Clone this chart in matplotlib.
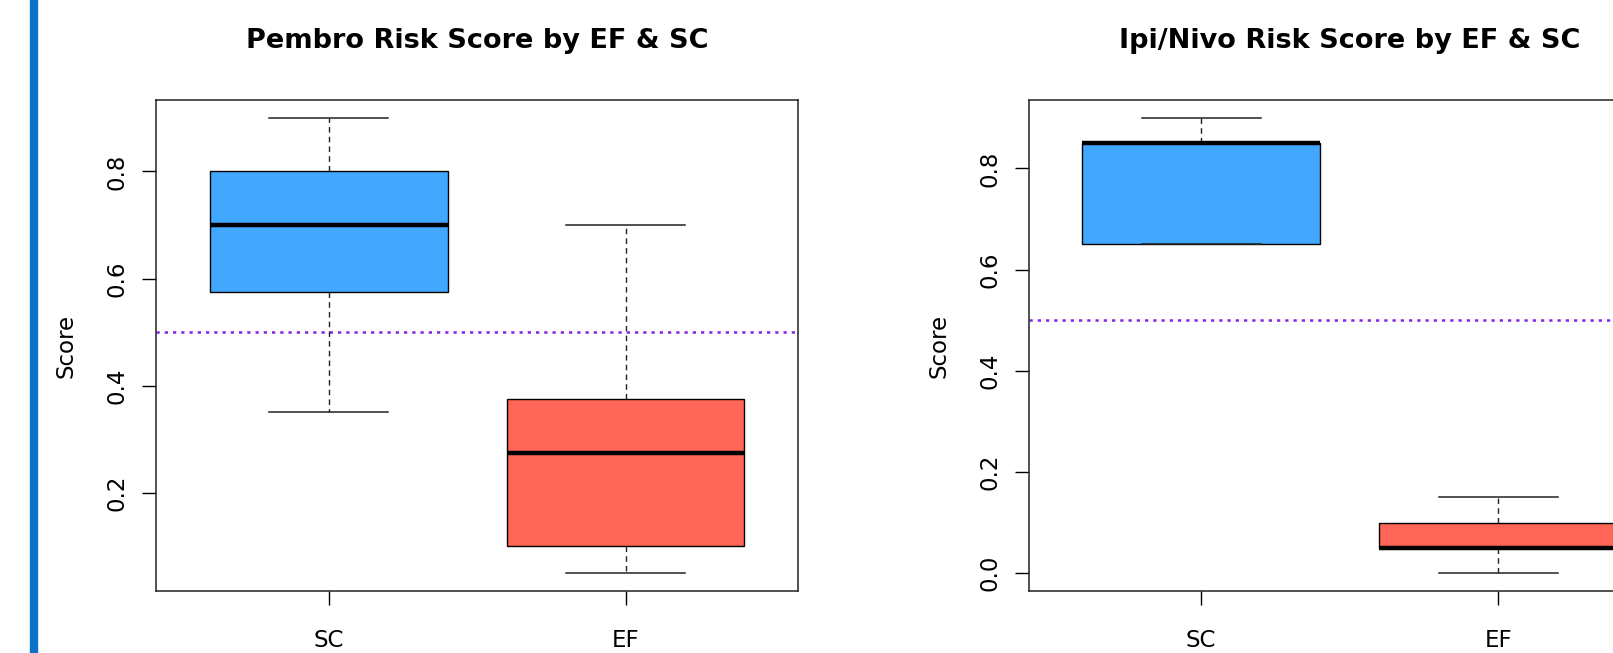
import matplotlib
matplotlib.use("Agg")
import matplotlib.pyplot as plt
from matplotlib.patches import Rectangle

plt.rcParams['font.family'] = ['DejaVu Sans']

# group labels, left to right
groups = ['SC', 'EF']

# five-number summaries per group: low whisker, Q1, median, Q3, high whisker
pembro_low = [0.35, 0.05]
pembro_q1 = [0.575, 0.10]
pembro_med = [0.70, 0.275]
pembro_q3 = [0.80, 0.375]
pembro_high = [0.90, 0.70]

ipinivo_low = [0.65, 0.00]
ipinivo_q1 = [0.65, 0.05]
ipinivo_med = [0.85, 0.05]
ipinivo_q3 = [0.85, 0.10]
ipinivo_high = [0.90, 0.15]

pembro_ticks = [0.2, 0.4, 0.6, 0.8]
ipinivo_ticks = [0.0, 0.2, 0.4, 0.6, 0.8]

threshold = 0.5
box_colors = ['#42A8FF', '#FF6657']
line_color = '#8226E6'


def make_stats(low, q1, med, q3, high):
    stats = []
    for i in range(len(groups)):
        stats.append(dict(whislo=low[i], q1=q1[i], med=med[i], q3=q3[i],
                          whishi=high[i], fliers=[], label=groups[i]))
    return stats


def draw_panel(ax, stats, ticks, title):
    bp = ax.bxp(stats, positions=[1, 2], widths=0.8, capwidths=0.4,
                patch_artist=True, showfliers=False,
                boxprops=dict(edgecolor='black', linewidth=1.0),
                whiskerprops=dict(color='#222222', linewidth=1.0, linestyle=(0, (4, 3))),
                capprops=dict(color='#222222', linewidth=1.1),
                medianprops=dict(color='black', linewidth=3.2, solid_capstyle='butt'))
    for patch, c in zip(bp['boxes'], box_colors):
        patch.set_facecolor(c)

    lows = [s['whislo'] for s in stats]
    highs = [s['whishi'] for s in stats]
    lo, hi = min(lows), max(highs)
    ext = (hi - lo) * 0.04
    ax.set_ylim(lo - ext, hi + ext)
    ax.set_xlim(0.42, 2.58)

    ax.axhline(threshold, color=line_color, linestyle=(0, (1.3, 2.0)), linewidth=1.8, zorder=1)

    ax.set_yticks(ticks)
    ax.set_yticklabels([f'{t:.1f}' for t in ticks], rotation=90, va='center')
    ax.set_xticks([1, 2])
    ax.set_xticklabels(groups)
    ax.tick_params(axis='y', length=10, width=1.0, pad=10, labelsize=16.5)
    ax.tick_params(axis='x', length=10, width=1.0, pad=17, labelsize=16.5)
    for sp in ax.spines.values():
        sp.set_linewidth(1.1)
        sp.set_color('#222222')
    ax.set_ylabel('Score', fontsize=16.5, labelpad=20)
    ax.set_title(title, fontsize=19.5, fontweight='bold', pad=37)


fig = plt.figure(figsize=(16.13, 6.53), dpi=100)

# left accent stripe
fig.add_artist(Rectangle((30 / 1613, 0), 7 / 1613, 1, transform=fig.transFigure,
                         color='#0A72C8', zorder=0))

ax1 = fig.add_axes([0.0970, 0.0942, 0.3977, 0.7534])
ax2 = fig.add_axes([0.6379, 0.0942, 0.3977, 0.7534])

draw_panel(ax1, make_stats(pembro_low, pembro_q1, pembro_med, pembro_q3, pembro_high),
           pembro_ticks, 'Pembro Risk Score by EF & SC')
draw_panel(ax2, make_stats(ipinivo_low, ipinivo_q1, ipinivo_med, ipinivo_q3, ipinivo_high),
           ipinivo_ticks, 'Ipi/Nivo Risk Score by EF & SC')

fig.savefig('out.png', dpi=100)
